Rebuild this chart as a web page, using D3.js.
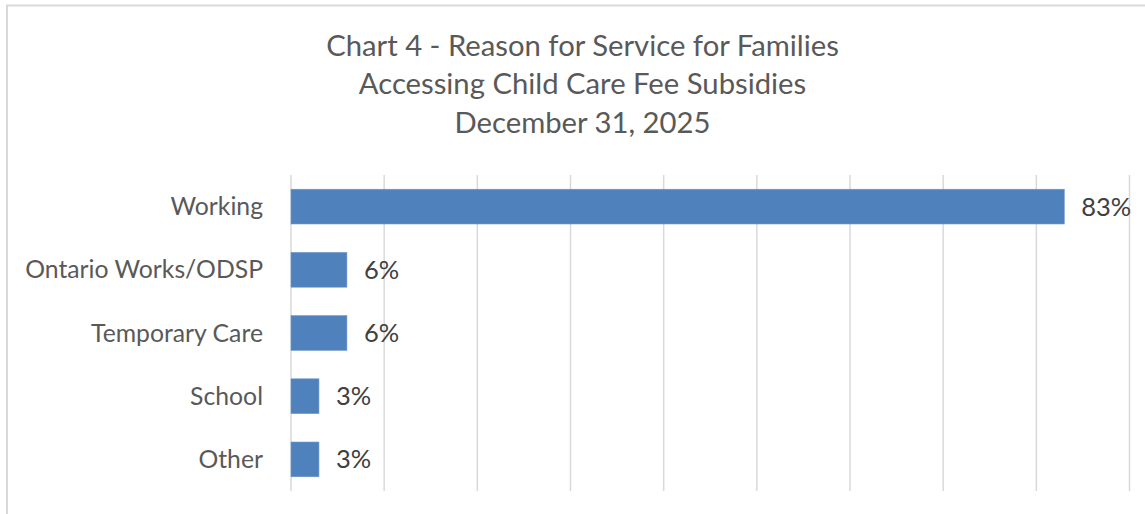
<!DOCTYPE html>
<html>
<head>
<meta charset="utf-8">
<script src="https://cdn.jsdelivr.net/npm/d3@7"></script>
<style>
  html, body { margin: 0; padding: 0; background: #fff; }
  svg { display: block; }
</style>
</head>
<body>
<svg id="chart" width="1145" height="514"></svg>
<script>
// chart data
const titleLines = [
  'Chart 4 - Reason for Service for Families',
  'Accessing Child Care Fee Subsidies',
  'December 31, 2025'
];
const categories = ['Working', 'Ontario Works/ODSP', 'Temporary Care', 'School', 'Other'];
const values     = [83, 6, 6, 3, 3];
const xTicks     = [0, 10, 20, 30, 40, 50, 60, 70, 80, 90];

const FONT = 'Lato, "Open Sans", sans-serif';

const svg = d3.select('#chart');

// font size that makes a string a given width
const fitSize = (text, target) => {
  const probe = svg.append('text')
      .attr('font-family', FONT)
      .attr('font-size', 100)
      .text(text);
  const w = probe.node().getComputedTextLength();
  probe.remove();
  return 100 * target / w;
};

const titleSize = fitSize(titleLines[0], 513);
const labelSize = fitSize('Ontario Works/ODSP', 238);
const valueSize = fitSize('83%', 50);

// frame (only top and left edges show)
svg.append('path')
    .attr('d', 'M7,514V5.5H1145')
    .attr('fill', 'none')
    .attr('stroke', '#d9d9d9')
    .attr('stroke-width', 2);

// title
svg.append('g')
    .attr('id', 'title')
  .selectAll('text')
    .data(titleLines)
  .enter()
  .append('text')
    .attr('x', 582.5)
    .attr('y', (d, i) => 55.5 + i * 38.6)
    .attr('text-anchor', 'middle')
    .attr('font-family', FONT)
    .attr('font-size', titleSize)
    .attr('fill', '#595959')
    .text((d) => d);

// scales
const x = d3.scaleLinear()
    .domain([0, 90])
    .range([291, 1129.5]);

const y = d3.scaleBand()
    .domain(categories)
    .range([175, 491])
    .paddingInner(0.45)
    .paddingOuter(0.225);

// vertical gridlines
svg.append('g')
    .attr('id', 'grid')
  .selectAll('line')
    .data(xTicks)
  .enter()
  .append('line')
    .attr('x1', (d) => x(d))
    .attr('x2', (d) => x(d))
    .attr('y1', 175)
    .attr('y2', 491)
    .attr('stroke', '#d9d9d9')
    .attr('stroke-width', 1.5);

// bars
svg.append('g')
    .attr('id', 'bars')
  .selectAll('rect')
    .data(values)
  .enter()
  .append('rect')
    .attr('x', x(0))
    .attr('y', (d, i) => y(categories[i]))
    .attr('width', (d) => x(d) - x(0))
    .attr('height', y.bandwidth())
    .attr('fill', '#4f81bd')
    .attr('stroke', '#6f97c8')
    .attr('stroke-width', 0.6);

// category labels
const yAxis = svg.append('g')
    .attr('transform', `translate(${x(0)},0)`)
    .call(d3.axisLeft(y).tickSize(0).tickPadding(28));

yAxis.select('.domain').remove();
yAxis.selectAll('text')
    .attr('font-family', FONT)
    .attr('font-size', labelSize)
    .attr('fill', '#595959')
    .attr('dy', '0.35em');

// value labels
svg.append('g')
    .attr('id', 'values')
  .selectAll('text')
    .data(values)
  .enter()
  .append('text')
    .attr('x', (d) => x(d) + 17)
    .attr('y', (d, i) => y(categories[i]) + y.bandwidth() / 2)
    .attr('dy', '0.35em')
    .attr('font-family', FONT)
    .attr('font-size', valueSize)
    .attr('fill', '#404040')
    .text((d) => `${d}%`);
</script>
</body>
</html>
